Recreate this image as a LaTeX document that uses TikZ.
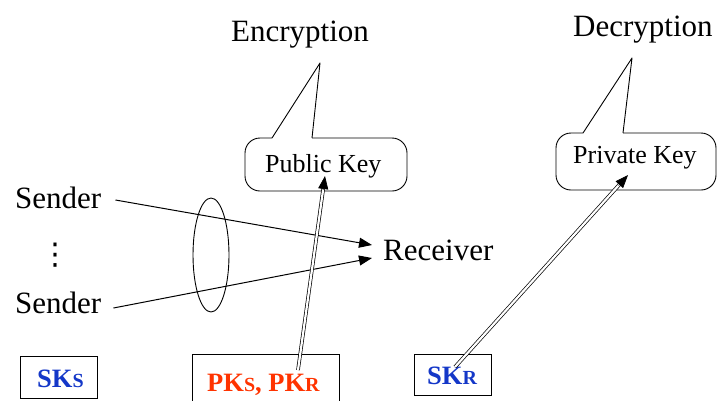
\documentclass[tikz,border=0pt]{standalone}
\usepackage{fontspec}
\setmainfont{Liberation Serif}
\newfontfamily\symfont{DejaVu Sans}
\usetikzlibrary{arrows.meta,calc}
\definecolor{keyblue}{RGB}{20,55,200}
\definecolor{keyred}{RGB}{255,51,0}
\newcommand{\bigtxt}{\fontsize{31}{33}\selectfont}
\newcommand{\midtxt}{\fontsize{26}{28}\selectfont}
\newcommand{\keytxt}{\fontsize{26.5}{28}\selectfont\bfseries}
\newcommand{\subk}[1]{{\fontsize{20}{20}\selectfont #1}}
\tikzset{
  lbl/.style={inner sep=0pt, anchor=base west},
  keybox/.style={draw, line width=0.9pt, inner sep=0pt},
  flow/.style={line width=1pt, -{Triangle[length=13pt,width=10pt]}},
  dline/.style={line width=0.7pt, double, double distance=2.2pt},
  dtip/.style={line width=0.7pt, -{Triangle[length=13pt,width=10pt]}},
  callout/.style={line width=0.9pt, line join=round},
}
\begin{document}
\begin{tikzpicture}[x=1pt,y=-1pt]
\useasboundingbox (0,0) rectangle (722,400);

% headings above the callouts
\node[lbl] (enc) at (231,41) {\bigtxt Encryption};
\node[lbl] (dec) at (573,36) {\bigtxt Decryption};

% callout bubbles
\draw[callout, rounded corners=15pt] (312,138) -- (407,138) -- (407,191) -- (245,191) -- (245,138) -- (272,138);
\draw[callout] (272,138) -- (320,63) -- (312,138);
\node[lbl] (pub) at (265,172) {\midtxt Public Key};

\draw[callout, rounded corners=15pt] (623,133) -- (716,133) -- (716,190) -- (556,190) -- (556,133) -- (583,133);
\draw[callout] (583,133) -- (632,58) -- (623,133);
\node[lbl] (priv) at (573,163) {\midtxt Private Key};

% senders and receiver
\node[lbl] (s1) at (15,208) {\bigtxt Sender};
\node[inner sep=0pt] (dots) at (55,255) {\symfont\fontsize{30}{30}\selectfont ⋮};
\node[lbl] (s2) at (15,313) {\bigtxt Sender};
\node[lbl] (recv) at (383,260) {\bigtxt Receiver};

\coordinate (r1) at (372,245);
\coordinate (r2) at (372,258);
\draw[flow] ([xshift=14pt,yshift=8pt]s1.base east) -- (r1);
\draw[flow] ([xshift=12pt,yshift=5pt]s2.base east) -- (r2);

% group of senders
\draw[line width=0.9pt] (211,255) ellipse [x radius=18, y radius=57];

% key boxes
\node[keybox, minimum width=77pt, minimum height=42pt] (sks) at (58.5,377) {};
\node[lbl, text=keyblue] (sksl) at (37,387) {\keytxt SK\subk{S}};

\node[keybox, minimum width=147pt, minimum height=60pt] (pks) at (265.5,384) {};
\node[lbl, text=keyred] (pksl) at (207,391) {\keytxt PK\subk{S}, PK\subk{R}};

\node[keybox, minimum width=77pt, minimum height=41pt] (skr) at (452.5,374.5) {};
\node[lbl, text=keyblue] (skrl) at (427,384) {\keytxt SK\subk{R}};

% key distribution links (double lines)
\coordinate (pkfoot) at (298,370);
\coordinate (pktip) at (325,176);
\draw[dline] (pkfoot) -- ($(pktip)!11pt!(pkfoot)$);
\draw[dtip] ($(pktip)!14pt!(pkfoot)$) -- (pktip);

\coordinate (skfoot) at (455,367);
\coordinate (sktip) at (628,175);
\draw[dline] (skfoot) -- ($(sktip)!11pt!(skfoot)$);
\draw[dtip] ($(sktip)!14pt!(skfoot)$) -- (sktip);
\end{tikzpicture}
\end{document}
